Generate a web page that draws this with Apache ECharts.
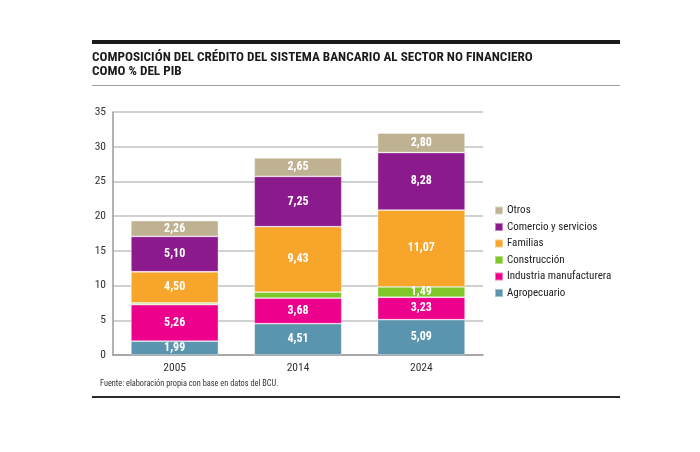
<!DOCTYPE html>
<html><head><meta charset="utf-8">
<script src="https://cdn.jsdelivr.net/npm/echarts@6/dist/echarts.min.js"></script>
<style>html,body{margin:0;padding:0;background:#fff}#c{width:700px;height:452px}</style>
</head><body><div id="c"></div>
<script>
const categories = ['2005', '2014', '2024'];
const agropecuario = [1.99, 4.51, 5.09];
const industria = [5.26, 3.68, 3.23];
const construccion = [0.24, 0.86, 1.49];
const familias = [4.50, 9.43, 11.07];
const comercio = [5.10, 7.25, 8.28];
const otros = [2.26, 2.65, 2.80];
const yTicks = [0, 5, 10, 15, 20, 25, 30, 35];

const FONT = '"Roboto Condensed", "Open Sans Condensed", sans-serif';
const chart = echarts.init(document.getElementById('c'), null, {renderer: 'canvas'});

function mk(name, data, color) {
  return {
    name, type: 'bar', stack: 'total', data, barCategoryGap: '29%',
    itemStyle: {color, borderColor: 'rgba(255,255,255,0.45)', borderWidth: 0.8},
    label: {
      show: true, position: 'inside', color: '#fff', fontFamily: FONT, fontWeight: 'bold', fontSize: 12,
      formatter: p => p.value < 1 ? '' : p.value.toFixed(2).replace('.', ',')
    },
    emphasis: {disabled: true}
  };
}

chart.setOption({
  animation: false,
  textStyle: {fontFamily: FONT},
  title: {
    text: 'COMPOSICIÓN DEL CRÉDITO DEL SISTEMA BANCARIO AL SECTOR NO FINANCIERO\nCOMO % DEL PIB',
    left: 92, top: 50, padding: 0,
    textStyle: {fontFamily: FONT, fontWeight: 'bold', fontSize: 13.2, color: '#1a1a1a', lineHeight: 14.5}
  },
  graphic: [
    {type: 'rect', shape: {x: 92, y: 40, width: 528, height: 4}, style: {fill: '#1a1a1a'}},
    {type: 'rect', shape: {x: 92, y: 85, width: 528, height: 1}, style: {fill: '#a0a0a0'}},
    {type: 'rect', shape: {x: 92, y: 396, width: 528, height: 2}, style: {fill: '#2a2a2a'}},
    {type: 'text', left: 100, top: 380, style: {text: 'Fuente: elaboración propia con base en datos del BCU.', font: '8.3px ' + FONT, fill: '#333'}}
  ],
  legend: {
    orient: 'vertical', left: 494, top: 204.5, itemWidth: 8, itemHeight: 8, itemGap: 4.5, padding: 0,
    icon: 'rect',
    data: ['Otros', 'Comercio y servicios', 'Familias', 'Construcción', 'Industria manufacturera', 'Agropecuario'],
    textStyle: {fontFamily: FONT, fontSize: 11, lineHeight: 12, color: '#222', padding: [0, 0, 0, -1]}
  },
  grid: {left: 113, right: 217, top: 112, bottom: 97},
  xAxis: {
    type: 'category', data: categories,
    axisLine: {lineStyle: {color: '#9a9a9a', width: 1.5}},
    axisTick: {show: false},
    axisLabel: {fontFamily: FONT, fontSize: 11.5, color: '#333', margin: 7}
  },
  yAxis: {
    type: 'value', min: 0, max: 35, interval: 5,
    axisLine: {show: true, lineStyle: {color: '#9a9a9a', width: 1.5}},
    axisTick: {show: false},
    splitLine: {lineStyle: {color: '#c2c2c2', width: 1.5}},
    axisLabel: {fontFamily: FONT, fontSize: 11.5, color: '#333', margin: 7,
      formatter: v => yTicks.includes(v) ? String(v) : ''}
  },
  series: [
    mk('Agropecuario', agropecuario, '#5b94ae'),
    mk('Industria manufacturera', industria, '#ec008c'),
    mk('Construcción', construccion, '#7dc828'),
    mk('Familias', familias, '#f8a52c'),
    mk('Comercio y servicios', comercio, '#8b1a8c'),
    mk('Otros', otros, '#bfb292')
  ]
});
</script></body></html>
